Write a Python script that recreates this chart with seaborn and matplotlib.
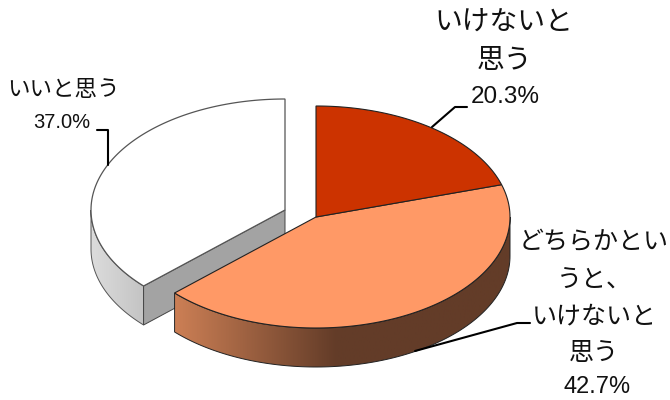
"""Exploded 3D-style pie chart of survey answers."""
import numpy as np
import matplotlib
matplotlib.use('Agg')
import matplotlib.pyplot as plt
from matplotlib.patches import Polygon
from matplotlib.colors import LinearSegmentedColormap
import seaborn as sns

# Data
labels = ['いけないと\n思う', 'どちらかとい\nうと、\nいけないと\n思う', 'いいと思う']
values = [20.3, 42.7, 37.0]
top_colors = ['#cc3300', '#ff9966', '#ffffff']

sns.set_theme(style='white')
plt.rcParams['font.family'] = ['Noto Sans CJK JP', 'DejaVu Sans']

RX, RY, DEPTH = 194, 111, 39
CENTER = (316, 217)
WHITE_CENTER = (285, 210)
PCT_FONT = ['Liberation Sans', 'DejaVu Sans']
INK = '#111111'


def rim(t0, t1, center, n=120):
    # t is degrees clockwise from 12 o'clock
    t = np.radians(np.linspace(t0, t1, n))
    return np.column_stack([center[0] + RX * np.sin(t), center[1] - RY * np.cos(t)])


def gradient_fill(ax, poly, stops, x0, x1, zorder):
    cmap = LinearSegmentedColormap.from_list('side', stops)
    patch = Polygon(poly, closed=True, fc='none', ec='none', zorder=zorder)
    ax.add_patch(patch)
    im = ax.imshow(np.linspace(0, 1, 256)[None, :], cmap=cmap, aspect='auto',
                   extent=[x0, x1, 400, 0], zorder=zorder)
    im.set_clip_path(patch)


fig = plt.figure(figsize=(6.7, 4.0), dpi=100)
ax = fig.add_axes([0, 0, 1, 1])

# turn the shares into angles
edges = np.concatenate([[0], np.cumsum(values)]) * 3.6

# white slice, pulled out to the upper left
t0, t1 = edges[2], edges[3]
arc = rim(t0, t1, WHITE_CENTER)
side_top = rim(t0, 270, WHITE_CENTER)
side = np.vstack([side_top, side_top[::-1] + [0, DEPTH]])
gradient_fill(ax, side, [(0, '#dcdcdc'), (1, '#c4c4c4')],
              side_top[:, 0].min(), side_top[:, 0].max(), 1)
ax.add_patch(Polygon(side, closed=True, fc='none', ec='#555555', lw=0.7, zorder=1.1))
corner = arc[0]
face = [WHITE_CENTER, corner, corner + [0, DEPTH], (WHITE_CENTER[0], WHITE_CENTER[1] + DEPTH)]
ax.add_patch(Polygon(face, closed=True, fc='#a3a3a3', ec='#444444', lw=0.7, zorder=1.2))
ax.add_patch(Polygon(np.vstack([[WHITE_CENTER], arc]), closed=True, fc=top_colors[2],
                     ec='#555555', lw=0.9, zorder=1.3))

# orange slice with its shaded wall
t0, t1 = edges[1], edges[2]
arc = rim(t0, t1, CENTER)
side_top = rim(90, t1, CENTER)
side = np.vstack([side_top, side_top[::-1] + [0, DEPTH]])
gradient_fill(ax, side, [(0, '#cc7f55'), (0.48, '#633c28'), (1, '#633c28')],
              side_top[:, 0].min(), side_top[:, 0].max(), 2)
ax.add_patch(Polygon(side, closed=True, fc='none', ec='#222222', lw=0.7, zorder=2.1))
ax.add_patch(Polygon(np.vstack([[CENTER], arc]), closed=True, fc=top_colors[1],
                     ec='#222222', lw=0.8, zorder=2.2))

# red slice
arc = rim(edges[0], edges[1], CENTER)
ax.add_patch(Polygon(np.vstack([[CENTER], arc]), closed=True, fc=top_colors[0],
                     ec='#222222', lw=0.8, zorder=2.3))

# leader lines
ax.plot([432, 455, 467], [127, 107, 107], color='black', lw=1.5, zorder=3)
ax.plot([415, 517, 530], [351, 323, 323], color='black', lw=1.5, zorder=3)
ax.plot([97, 108, 108], [130, 130, 165], color='black', lw=1.5, zorder=3)

# labels
ax.text(504, 41, labels[0], fontsize=20, ha='center', va='center', linespacing=1.38, color=INK)
ax.text(505, 97, f'{values[0]:.1f}%', fontsize=17.5, ha='center', va='center', color=INK, family=PCT_FONT)
ax.text(594, 298, labels[1], fontsize=18, ha='center', va='center', linespacing=1.55, color=INK)
ax.text(597, 387, f'{values[1]:.1f}%', fontsize=17, ha='center', va='center', color=INK, family=PCT_FONT)
ax.text(63, 90, labels[2], fontsize=16.2, ha='center', va='center', color=INK)
ax.text(62, 122, f'{values[2]:.1f}%', fontsize=14.5, ha='center', va='center', color=INK, family=PCT_FONT)

ax.set_xlim(0, 670)
ax.set_ylim(400, 0)
ax.axis('off')
fig.savefig('out.png', dpi=100, facecolor='white')
